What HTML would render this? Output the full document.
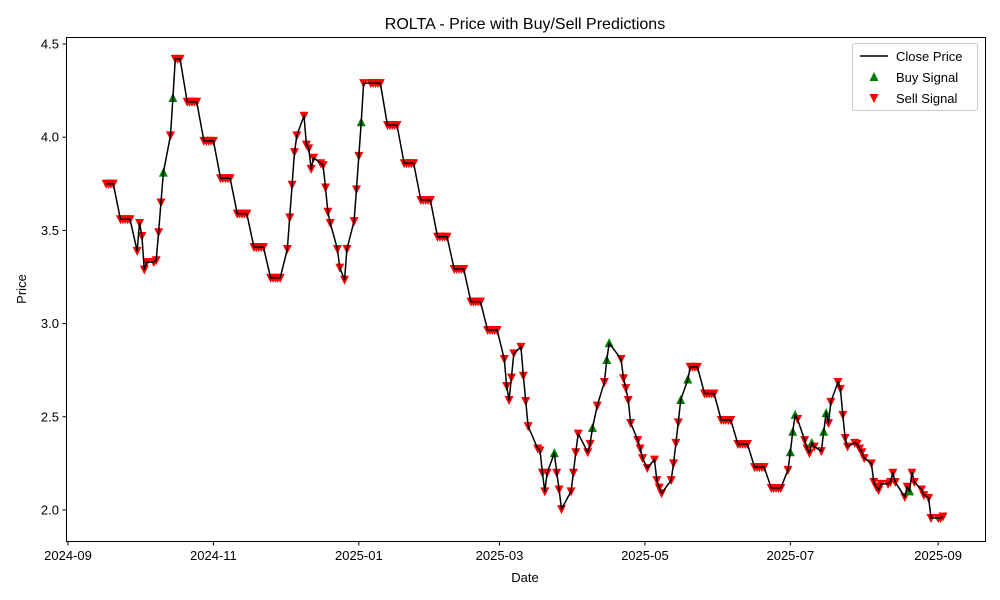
<!DOCTYPE html>
<html><head><meta charset="utf-8"><style>
body{margin:0;background:#fff}
svg{display:block;font-family:"Liberation Sans","DejaVu Sans",sans-serif}
</style></head><body>
<svg id="chart" width="1000" height="600" viewBox="0 0 1000 600" xmlns="http://www.w3.org/2000/svg">
<rect width="1000" height="600" fill="#fff"/>
<text x="525" y="29" font-size="16" text-anchor="middle">ROLTA - Price with Buy/Sell Predictions</text>
<g id="axes"></g>
<g id="marks"></g>
<rect x="66.5" y="37.5" width="919" height="504" fill="none" stroke="#000" stroke-width="1"/>
<text x="525" y="582" font-size="13" text-anchor="middle">Date</text>
<text x="0" y="0" font-size="13" text-anchor="middle" transform="translate(26,289) rotate(-90)">Price</text>
<g>
<rect x="852.5" y="43.5" width="125" height="67" rx="2" fill="#fff" fill-opacity="0.8" stroke="#ccc"/>
<line x1="860" y1="56" x2="888" y2="56" stroke="#000" stroke-width="1.5"/>
<text x="896" y="61" font-size="13">Close Price</text>
<polygon points="874,72 878.5,81 869.5,81" fill="green"/>
<text x="896" y="82" font-size="13">Buy Signal</text>
<polygon points="869.5,94 878.5,94 874,103" fill="red"/>
<text x="896" y="103" font-size="13">Sell Signal</text>
</g>
</svg>
<script>
const dates=["2024-09-17","2024-09-18","2024-09-19","2024-09-20","2024-09-23","2024-09-24","2024-09-25","2024-09-26","2024-09-27","2024-09-30","2024-10-01","2024-10-02","2024-10-03","2024-10-04","2024-10-07","2024-10-08","2024-10-09","2024-10-10","2024-10-11","2024-10-14","2024-10-15","2024-10-16","2024-10-17","2024-10-18","2024-10-21","2024-10-22","2024-10-23","2024-10-24","2024-10-25","2024-10-28","2024-10-29","2024-10-30","2024-10-31","2024-11-01","2024-11-04","2024-11-05","2024-11-06","2024-11-07","2024-11-08","2024-11-11","2024-11-12","2024-11-13","2024-11-14","2024-11-15","2024-11-18","2024-11-19","2024-11-20","2024-11-21","2024-11-22","2024-11-25","2024-11-26","2024-11-27","2024-11-28","2024-11-29","2024-12-02","2024-12-03","2024-12-04","2024-12-05","2024-12-06","2024-12-09","2024-12-10","2024-12-11","2024-12-12","2024-12-13","2024-12-16","2024-12-17","2024-12-18","2024-12-19","2024-12-20","2024-12-23","2024-12-24","2024-12-26","2024-12-27","2024-12-30","2024-12-31","2025-01-01","2025-01-02","2025-01-03","2025-01-06","2025-01-07","2025-01-08","2025-01-09","2025-01-10","2025-01-13","2025-01-14","2025-01-15","2025-01-16","2025-01-17","2025-01-20","2025-01-21","2025-01-22","2025-01-23","2025-01-24","2025-01-27","2025-01-28","2025-01-29","2025-01-30","2025-01-31","2025-02-03","2025-02-04","2025-02-05","2025-02-06","2025-02-07","2025-02-10","2025-02-11","2025-02-12","2025-02-13","2025-02-14","2025-02-17","2025-02-18","2025-02-19","2025-02-20","2025-02-21","2025-02-24","2025-02-25","2025-02-26","2025-02-27","2025-02-28","2025-03-03","2025-03-04","2025-03-05","2025-03-06","2025-03-07","2025-03-10","2025-03-11","2025-03-12","2025-03-13","2025-03-17","2025-03-18","2025-03-19","2025-03-20","2025-03-21","2025-03-24","2025-03-25","2025-03-26","2025-03-27","2025-03-31","2025-04-01","2025-04-02","2025-04-03","2025-04-07","2025-04-08","2025-04-09","2025-04-11","2025-04-14","2025-04-15","2025-04-16","2025-04-21","2025-04-22","2025-04-23","2025-04-24","2025-04-25","2025-04-28","2025-04-29","2025-04-30","2025-05-02","2025-05-05","2025-05-06","2025-05-07","2025-05-08","2025-05-12","2025-05-13","2025-05-14","2025-05-15","2025-05-16","2025-05-19","2025-05-20","2025-05-21","2025-05-22","2025-05-23","2025-05-26","2025-05-27","2025-05-28","2025-05-29","2025-05-30","2025-06-02","2025-06-03","2025-06-04","2025-06-05","2025-06-06","2025-06-09","2025-06-10","2025-06-11","2025-06-12","2025-06-13","2025-06-16","2025-06-17","2025-06-18","2025-06-19","2025-06-20","2025-06-23","2025-06-24","2025-06-25","2025-06-26","2025-06-27","2025-06-30","2025-07-01","2025-07-02","2025-07-03","2025-07-04","2025-07-07","2025-07-08","2025-07-09","2025-07-10","2025-07-11","2025-07-14","2025-07-15","2025-07-16","2025-07-17","2025-07-18","2025-07-21","2025-07-22","2025-07-23","2025-07-24","2025-07-25","2025-07-28","2025-07-29","2025-07-30","2025-07-31","2025-08-01","2025-08-04","2025-08-05","2025-08-06","2025-08-07","2025-08-08","2025-08-11","2025-08-12","2025-08-13","2025-08-14","2025-08-18","2025-08-19","2025-08-20","2025-08-21","2025-08-22","2025-08-25","2025-08-26","2025-08-28","2025-08-29","2025-09-01","2025-09-02","2025-09-03"];
const prices=[3.75,3.75,3.75,3.75,3.56,3.56,3.56,3.56,3.56,3.39,3.54,3.47,3.29,3.33,3.33,3.34,3.49,3.65,3.81,4.01,4.21,4.42,4.42,4.42,4.19,4.19,4.19,4.19,4.19,3.98,3.98,3.98,3.98,3.98,3.78,3.78,3.78,3.78,3.78,3.59,3.59,3.59,3.59,3.59,3.41,3.41,3.41,3.41,3.41,3.245,3.245,3.245,3.245,3.245,3.40,3.57,3.745,3.92,4.01,4.115,3.96,3.94,3.83,3.89,3.86,3.85,3.73,3.60,3.54,3.40,3.30,3.235,3.40,3.55,3.72,3.90,4.08,4.29,4.29,4.29,4.29,4.29,4.29,4.065,4.065,4.065,4.065,4.065,3.86,3.86,3.86,3.86,3.86,3.663,3.663,3.663,3.663,3.663,3.466,3.466,3.466,3.466,3.466,3.293,3.293,3.293,3.293,3.293,3.118,3.118,3.118,3.118,3.118,2.966,2.966,2.966,2.966,2.966,2.81,2.665,2.59,2.71,2.84,2.875,2.72,2.585,2.45,2.33,2.32,2.20,2.10,2.20,2.305,2.20,2.11,2.005,2.10,2.20,2.31,2.41,2.31,2.355,2.44,2.56,2.687,2.805,2.895,2.81,2.707,2.654,2.59,2.467,2.375,2.33,2.278,2.225,2.27,2.16,2.12,2.09,2.16,2.25,2.36,2.47,2.59,2.70,2.768,2.768,2.768,2.768,2.625,2.625,2.625,2.625,2.625,2.483,2.483,2.483,2.483,2.483,2.354,2.354,2.354,2.354,2.354,2.23,2.23,2.23,2.23,2.23,2.118,2.118,2.118,2.118,2.118,2.215,2.31,2.42,2.51,2.488,2.375,2.33,2.305,2.36,2.34,2.316,2.42,2.52,2.466,2.58,2.687,2.65,2.51,2.386,2.34,2.36,2.355,2.33,2.31,2.278,2.25,2.15,2.125,2.107,2.14,2.14,2.15,2.2,2.15,2.07,2.125,2.1,2.2,2.15,2.11,2.08,2.065,1.957,1.957,1.957,1.965];
const buyDates=["2024-10-11","2024-10-15","2025-01-02","2025-03-24","2025-04-09","2025-04-15","2025-04-16","2025-05-16","2025-05-19","2025-07-01","2025-07-02","2025-07-03","2025-07-10","2025-07-15","2025-07-16","2025-08-20"];
const yTicks=[2.0,2.5,3.0,3.5,4.0,4.5];
const yTickLabels=["2.0","2.5","3.0","3.5","4.0","4.5"];
const xTicks=["2024-09-01","2024-11-01","2025-01-01","2025-03-01","2025-05-01","2025-07-01","2025-09-01"];
const xTickLabels=["2024-09","2024-11","2025-01","2025-03","2025-05","2025-07","2025-09"];

const NS="http://www.w3.org/2000/svg";
const t0=Date.UTC(2024,8,1);
function xScale(d){const p=d.split("-");const days=(Date.UTC(+p[0],+p[1]-1,+p[2])-t0)/86400000;return 68+days*2.384;}
function yScale(v){return 44+(4.5-v)*186.4;}
function mk(tag,attrs){const e=document.createElementNS(NS,tag);for(const k in attrs)e.setAttribute(k,attrs[k]);return e;}
const axes=document.getElementById("axes"),marks=document.getElementById("marks");
yTicks.forEach((v,i)=>{const y=yScale(v);
 const tk=mk("line",{x1:62.5,x2:66.5,y1:y,y2:y,stroke:"#000"});
 
 
 axes.appendChild(tk);
 const tl=mk("text",{x:59,y:y+4.5,"font-size":13,"text-anchor":"end"});tl.textContent=yTickLabels[i];
 
 
 axes.appendChild(tl);});
xTicks.forEach((d,i)=>{const x=xScale(d);
 const tk=mk("line",{x1:x,x2:x,y1:541.5,y2:545.5,stroke:"#000"});
 
 
 axes.appendChild(tk);
 const tl=mk("text",{x:x,y:560,"font-size":13,"text-anchor":"middle"});tl.textContent=xTickLabels[i];
 
 
 axes.appendChild(tl);});
dates.forEach((d,i)=>{const x=xScale(d),y=yScale(prices[i]);let p;
 if(buyDates.includes(d)){p=mk("polygon",{points:`${x},${y-5} ${x+4.5},${y+4} ${x-4.5},${y+4}`,fill:"green"});
  }
 else{p=mk("polygon",{points:`${x-4.5},${y-4} ${x+4.5},${y-4} ${x},${y+5}`,fill:"red"});
  }
 
 marks.appendChild(p);});
const line=mk("polyline",{points:dates.map((d,i)=>xScale(d)+","+yScale(prices[i])).join(" "),fill:"none",stroke:"#000","stroke-width":1.5,"stroke-linejoin":"round"});


marks.appendChild(line);
</script>
</body></html>
